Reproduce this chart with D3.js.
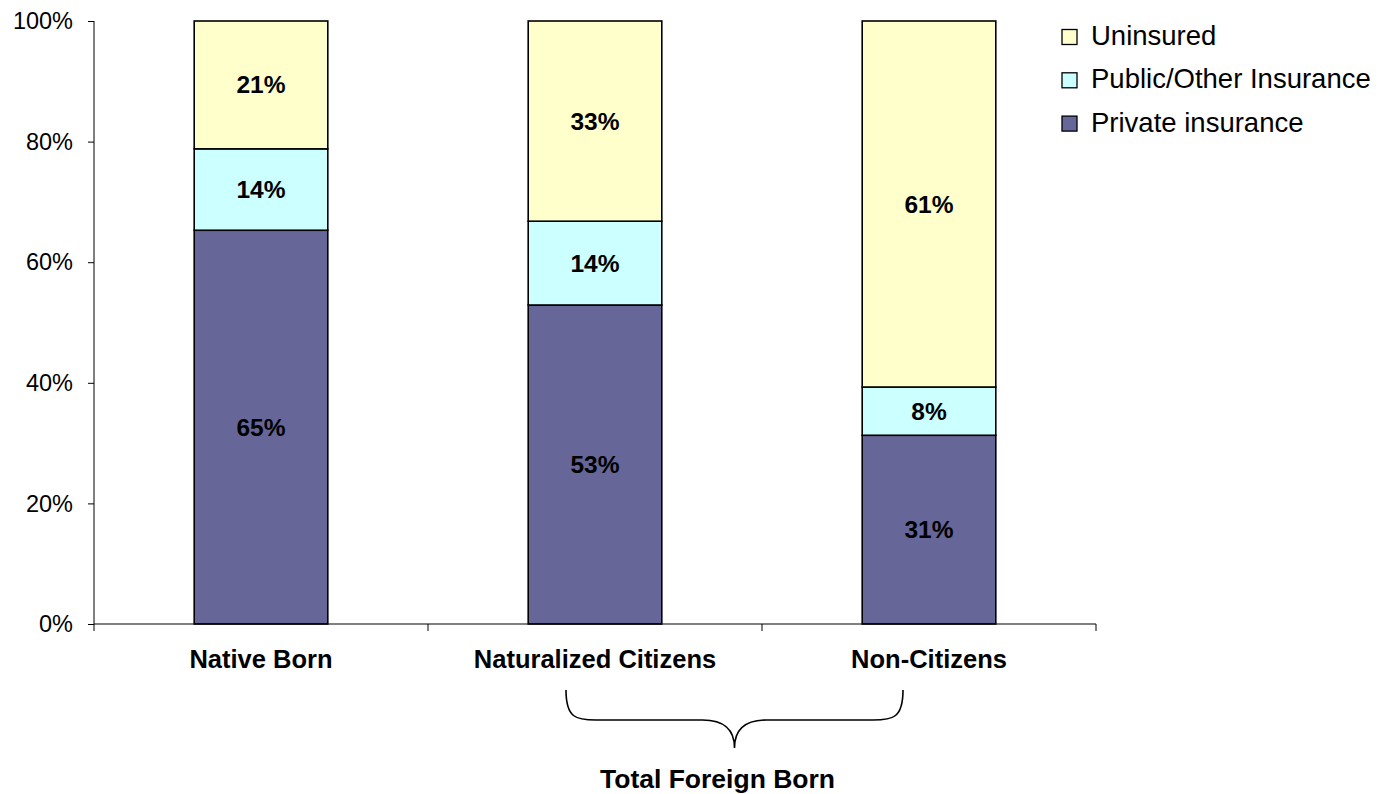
<!doctype html>
<html lang="en">
<head>
<meta charset="utf-8">
<title>Insurance coverage by nativity</title>
<script src="https://cdn.jsdelivr.net/npm/d3@7"></script>
<style>
  body { margin: 0; background: #fff; }
  svg { display: block; font-family: "Liberation Sans", Arial, sans-serif; }
</style>
</head>
<body>
<svg id="chart" width="1397" height="794"></svg>
<script>
// data (percent of group)
var categories = ["Native Born", "Naturalized Citizens", "Non-Citizens"];
var seriesNames = ["Private insurance", "Public/Other Insurance", "Uninsured"];
var privateIns = [65.3, 52.9, 31.3];
var publicIns = [13.5, 13.9, 8.0];
var uninsured = [21.2, 33.2, 60.7];
var yTicks = [0, 0.2, 0.4, 0.6, 0.8, 1];
var groupLabel = "Total Foreign Born";
var colors = ["#666699", "#CCFFFF", "#FFFFCC"];

var rows = categories.map(function(c, i) {
  return {cat: c, "Private insurance": privateIns[i] / 100,
          "Public/Other Insurance": publicIns[i] / 100, "Uninsured": uninsured[i] / 100};
});

var svg = d3.select("#chart");
// note: "top" is taken by window.top, so plot edges get a prefix
var plotLeft = 94, plotRight = 1096, plotTop = 21, plotBottom = 624;

var x = d3.scaleBand().domain(categories).range([plotLeft, plotRight])
  .paddingInner(0.6).paddingOuter(0.3);
var y = d3.scaleLinear().domain([0, 1]).range([plotBottom, plotTop]);
var color = d3.scaleOrdinal().domain(seriesNames).range(colors);

var stack = d3.stack().keys(seriesNames);
var layers = stack(rows);

// bars
var g = svg.append("g");
layers.forEach(function(layer) {
  g.selectAll(null).data(layer).enter().append("rect")
    .attr("x", function(d) { return x(d.data.cat); })
    .attr("width", x.bandwidth())
    .attr("y", function(d) { return y(d[1]); })
    .attr("height", function(d) { return y(d[0]) - y(d[1]); })
    .attr("fill", color(layer.key))
    .attr("stroke", "#000").attr("stroke-width", 1.6);
});
layers.forEach(function(layer) {
  g.selectAll(null).data(layer).enter().append("text")
    .attr("x", function(d) { return x(d.data.cat) + x.bandwidth() / 2; })
    .attr("y", function(d) { return (y(d[0]) + y(d[1])) / 2 + 8.5; })
    .attr("text-anchor", "middle")
    .attr("font-weight", "bold").attr("font-size", 24.5)
    .text(function(d) { return Math.round((d[1] - d[0]) * 100) + "%"; });
});

// y axis
var yAxis = svg.append("g").attr("transform", "translate(" + plotLeft + ",0)")
  .call(d3.axisLeft(y).tickValues(yTicks).tickFormat(d3.format(".0%")).tickSize(6).tickPadding(15));
yAxis.select(".domain").attr("stroke", "#000").attr("d", "M0," + plotTop + "V" + plotBottom);
yAxis.selectAll(".tick line").attr("stroke", "#000");
yAxis.selectAll(".tick text").attr("font-size", 23.5).attr("fill", "#000")
  .attr("font-family", "Liberation Sans, Arial, sans-serif").attr("dy", "0.33em");

// x axis: ticks sit between the categories
var bounds = [plotLeft].concat(categories.map(function(c) { return x(c) + x.step() * 0.7; }));
svg.append("line").attr("x1", plotLeft).attr("x2", plotRight).attr("y1", plotBottom).attr("y2", plotBottom)
  .attr("stroke", "#000");
svg.selectAll(null).data(bounds).enter().append("line")
  .attr("x1", function(d) { return d; }).attr("x2", function(d) { return d; })
  .attr("y1", plotBottom).attr("y2", plotBottom + 7).attr("stroke", "#000");
svg.selectAll(null).data(categories).enter().append("text")
  .attr("x", function(d) { return x(d) + x.bandwidth() / 2; })
  .attr("y", 668)
  .attr("text-anchor", "middle").attr("font-weight", "bold").attr("font-size", 25.5)
  .text(function(d) { return d; });

// brace under the foreign-born groups
var bx0 = x(categories[1]) + x.bandwidth() / 2 - 29;
var bx1 = x(categories[2]) + x.bandwidth() / 2 - 26;
var bm = (bx0 + bx1) / 2;
var by0 = 690, by1 = 720, by2 = 748;
svg.append("path")
  .attr("d", "M" + bx0 + "," + by0 + " C" + bx0 + "," + (by1 - 2) + " " + (bx0 + 10) + "," + by1 + " " + (bx0 + 30) + "," + by1 +
    " L" + (bm - 32) + "," + by1 + " C" + (bm - 12) + "," + by1 + " " + bm + "," + (by1 + 8) + " " + bm + "," + by2 +
    " C" + bm + "," + (by1 + 8) + " " + (bm + 12) + "," + by1 + " " + (bm + 32) + "," + by1 +
    " L" + (bx1 - 30) + "," + by1 + " C" + (bx1 - 10) + "," + by1 + " " + bx1 + "," + (by1 - 2) + " " + bx1 + "," + by0)
  .attr("fill", "none").attr("stroke", "#000").attr("stroke-width", 1.6);
svg.append("text").attr("x", bm - 17).attr("y", 788)
  .attr("text-anchor", "middle").attr("font-weight", "bold").attr("font-size", 26.5)
  .text(groupLabel);

// legend (top-down: Uninsured, Public, Private)
var legendItems = seriesNames.slice().reverse();
var lg = svg.selectAll(null).data(legendItems).enter().append("g")
  .attr("transform", function(d, i) { return "translate(1062," + (37 + i * 43.3) + ")"; });
lg.append("rect").attr("x", 0).attr("y", -7.5).attr("width", 15).attr("height", 15)
  .attr("fill", function(d) { return color(d); }).attr("stroke", "#000").attr("stroke-width", 1.3);
lg.append("text").attr("x", 29).attr("y", 8).attr("font-size", 27.5)
  .text(function(d) { return d; });
</script>
</body>
</html>
